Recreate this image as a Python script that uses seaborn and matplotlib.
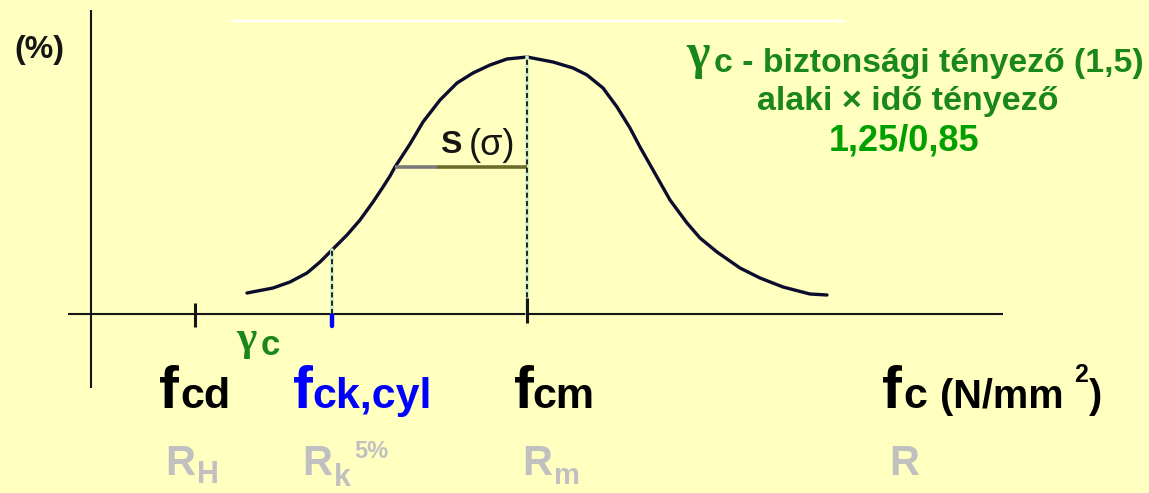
import numpy as np
import pandas as pd
import seaborn as sns
import matplotlib
matplotlib.use("Agg")
import matplotlib.pyplot as plt
from matplotlib import font_manager

# --- data -------------------------------------------------------------
# strength distribution of concrete (relative frequency curve)
strength = [15.6, 18.2, 19.9, 21.6, 22.9, 24.1, 25.6, 26.9, 28.2, 29.2,
            29.9, 30.4, 31.9, 33.2, 34.9, 36.6, 38.2, 39.9, 41.6, 43.6,
            46.2, 48.2, 49.6, 51.2, 52.6, 53.9, 54.9, 56.6, 57.9, 59.6,
            60.9, 62.6, 64.9, 66.9, 69.2, 71.9, 73.6]
frequency = [2.1, 2.6, 3.2, 4.1, 5.2, 6.4, 7.9, 9.4, 11.2, 12.7,
             13.8, 14.7, 17.0, 19.2, 21.4, 23.1, 24.1, 24.9, 25.5, 25.7,
             25.2, 24.6, 23.9, 22.6, 20.7, 18.6, 16.7, 13.7, 11.4, 9.1,
             7.6, 6.2, 4.6, 3.6, 2.7, 2.0, 1.9]

# characteristic strength values on the axis
f_cd = 10.4
f_ck = 24.1
f_cm = 43.6
s_dev = 13.2          # standard deviation s (sigma)

note_lines = ["c - biztonsági tényező (1,5)", "alaki × idő tényező", "1,25/0,85"]

BG = "#FFFFC0"
INK = "#151515"
CURVE = "#0c0c2e"
GREEN_D = "#1a871a"
GREEN_L = "#00a000"
BLUE = "#0000ff"
GREY = "#c0c0c0"


def has_font(name):
    try:
        font_manager.findfont(font_manager.FontProperties(family=name),
                              fallback_to_default=False)
        return True
    except ValueError:
        return False


sns.set_theme(style="white")
plt.rcParams["font.family"] = ["Liberation Sans", "DejaVu Sans"]
SANS = "Liberation Sans"
NARROW = "Liberation Sans Narrow" if has_font("Liberation Sans Narrow") else SANS
SERIF = "Liberation Serif" if has_font("Liberation Serif") else "DejaVu Serif"

fig = plt.figure(figsize=(11.49, 4.93), dpi=100, facecolor=BG)
ax = fig.add_axes([0, 0, 1, 1])
ax.set_facecolor(BG)
ax.set_xlim(-9.1, 105.8)
ax.set_ylim(-17.9, 31.4)
ax.axis("off")

# axes drawn as plain lines
ax.plot([-2.3, 91.2], [0, 0], color=INK, lw=1.5, solid_capstyle="butt")
ax.plot([0, 0], [-7.4, 30.4], color=INK, lw=1.5, solid_capstyle="butt")
ax.plot([14.0, 75.4], [29.3, 29.3], color="white", lw=1.6)

# distribution curve
df = pd.DataFrame({"strength": strength, "frequency": frequency})
sns.lineplot(data=df, x="strength", y="frequency", ax=ax, color=CURVE,
             lw=2.4, estimator=None, sort=True)

# dashed guides at f_ck and f_cm
h_ck = np.interp(f_ck, strength, frequency)
h_cm = np.interp(f_cm, strength, frequency)
for xv, hv in [(f_ck, h_ck), (f_cm, h_cm)]:
    ax.plot([xv, xv], [0, hv], color="#c9f2c9", lw=2.6, zorder=2)
    ax.plot([xv, xv], [0, hv], color=INK, lw=1.3, dashes=(2.8, 1.8), zorder=3)

# standard deviation bar
h_s = np.interp(f_cm - s_dev, strength, frequency)
ax.plot([f_cm - s_dev, f_cm - s_dev + 4.2], [h_s, h_s], color="#7a7a7a",
        lw=2.6, solid_capstyle="butt")
ax.plot([f_cm - s_dev + 4.2, f_cm], [h_s, h_s], color="#6c6c2a",
        lw=2.6, solid_capstyle="butt")

# ticks on the strength axis
ax.plot([f_cd, f_cd], [1.1, -1.3], color=INK, lw=2.2, solid_capstyle="butt")
ax.plot([f_cm, f_cm], [1.6, -0.9], color=INK, lw=2.2, solid_capstyle="butt")
ax.plot([f_ck, f_ck], [-0.1, -1.2], color=BLUE, lw=3.2, solid_capstyle="round")


def put(x, y, s, size, color, weight="bold", family=SANS, ha="left", va="baseline"):
    ax.text(x, y, s, fontsize=size, color=color, fontweight=weight,
            family=[family, "DejaVu Sans"], ha=ha, va=va)


# y-axis unit
put(-5.2, 26.4, "(%)", 23, INK, ha="center", va="center")

# S (sigma)
put(34.9, 16.1, "S", 23, INK)
put(37.8, 15.9, "(σ)", 26, INK, weight="normal")

# safety factor note
put(59.5, 24.6, "γ", 36, GREEN_D, family=SERIF)
put(62.3, 24.2, note_lines[0], 24.3, GREEN_D)
put(81.7, 20.4, note_lines[1], 24.5, GREEN_D, ha="center")
put(81.3, 16.4, note_lines[2], 26, GREEN_L, ha="center")

# gamma_c next to the axis
put(14.5, -3.6, "γ", 31, GREEN_D, family=SERIF)
put(17.0, -4.1, "c", 25, GREEN_D)

# strength labels
put(6.8, -9.4, "f", 43, "black")
put(8.9, -9.4, "cd", 31, "black")
put(20.2, -9.4, "f", 43, BLUE)
put(22.1, -9.4, "ck,cyl", 31, BLUE)
put(42.3, -9.4, "f", 43, "black")
put(44.1, -9.4, "cm", 31, "black")
put(79.1, -9.4, "f", 43, "black")
put(81.2, -9.4, "c", 31, "black")
put(84.9, -9.4, "(N/mm", 28.5, "black", family=NARROW)
put(98.3, -6.8, "2", 18, "black", family=NARROW)
put(99.8, -9.4, ")", 28.5, "black", family=NARROW)

# reliability notation
put(7.4, -16.1, "R", 30, GREY)
put(10.6, -16.9, "H", 22, GREY)
put(21.1, -16.1, "R", 30, GREY)
put(24.3, -17.2, "k", 22, GREY)
put(26.3, -14.4, "5%", 17, GREY)
put(43.1, -16.1, "R", 30, GREY)
put(46.3, -17.0, "m", 21, GREY)
put(79.8, -16.1, "R", 30, GREY)

fig.savefig("out.png", dpi=100, facecolor=BG)
